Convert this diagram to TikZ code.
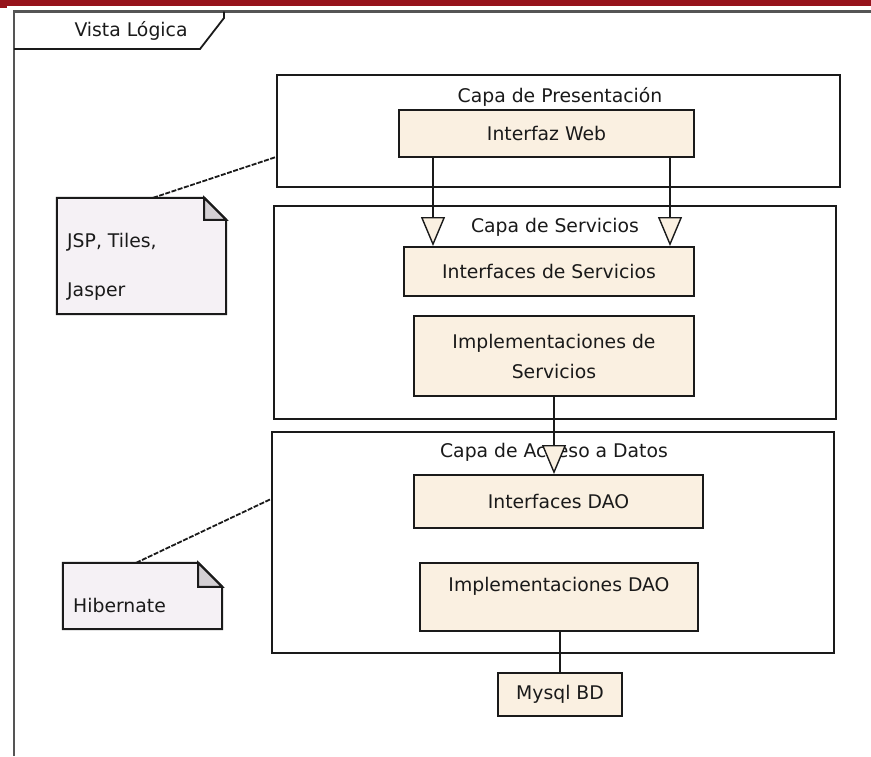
\documentclass[tikz,border=0pt]{standalone}
\usepackage{fontspec}
\setmainfont{DejaVu Sans}
\usetikzlibrary{arrows.meta,calc}

\definecolor{compfill}{RGB}{250,240,225}
\definecolor{notefill}{RGB}{245,241,245}
\definecolor{foldfill}{RGB}{212,208,212}
\definecolor{inkline}{RGB}{26,26,26}
\definecolor{framegray}{RGB}{85,85,85}
\definecolor{topred}{RGB}{150,20,28}

\tikzset{
  lbl/.style={font=\fontsize{18.8}{30}\selectfont, text=inkline},
  layer/.style={draw=inkline, line width=2pt, inner sep=0pt, fill=white},
  comp/.style={lbl, draw=inkline, line width=2pt, fill=compfill, inner sep=0pt, align=center},
  notebox/.style={inner sep=0pt},
  noteline/.style={draw=inkline, line width=2pt, line join=miter},
  anchorline/.style={draw=inkline, line width=1.8pt, dash pattern=on 5pt off 1.5pt},
  realize/.style={draw=inkline, line width=2pt,
    -{Triangle[length=29pt,width=24pt,fill=compfill,line width=1.4pt]}},
  link/.style={draw=inkline, line width=2pt},
  notetext/.style={lbl, inner sep=0pt, anchor=west}
}

\begin{document}
\begin{tikzpicture}[x=1pt,y=-1pt]
\useasboundingbox (0,0) rectangle (871,756);

% window strip and diagram frame
\fill[topred] (0,0) rectangle (871,5.5);
\fill[topred] (0,5.5) rectangle (7,7.5);
\draw[framegray, line width=2.8pt] (14,756) -- (14,11.5) -- (871,11.5);
\draw[inkline, line width=1.8pt] (14,49) -- (200,49) -- (224,18) -- (224,11.5);
\node[lbl] (frameT) at (131,31) {Vista Lógica};

% layers
\node[layer, minimum width=563pt, minimum height=112pt] (pres) at (558.5,131) {};
\node[lbl] (presT) at (560,97) {Capa de Presentación};
\node[layer, minimum width=562pt, minimum height=213pt] (serv) at (555,312.5) {};
\node[lbl] (servT) at (555,227) {Capa de Servicios};
\node[layer, minimum width=562pt, minimum height=221pt] (dat) at (553,542.5) {};
\node[lbl] (datT) at (554,452) {Capa de Acceso a Datos};

% components
\node[comp, minimum width=295pt, minimum height=47pt] (iw) at (546.5,133.5) {Interfaz Web};
\node[comp, minimum width=290pt, minimum height=49pt] (isv) at (549,271.5) {Interfaces de Servicios};
\node[comp, minimum width=280pt, minimum height=80pt] (impsv) at (554,356) {Implementaciones de\\Servicios};
\node[comp, minimum width=289pt, minimum height=53pt] (idao) at (558.5,501.5) {Interfaces DAO};
\node[comp, minimum width=278pt, minimum height=68pt,
      label={[lbl,anchor=center,yshift=-24pt]north:Implementaciones DAO}] (impdao) at (559,597) {};
\node[comp, minimum width=124pt, minimum height=43pt] (mysql) at (560,694.5) {Mysql BD};

% dependencies
\draw[realize] ([xshift=35pt]iw.south west) -- ([xshift=35pt]iw.south west |- isv.north);
\draw[realize] ([xshift=-25pt]iw.south east) -- ([xshift=-25pt]iw.south east |- isv.north);
\draw[realize] (impsv.south) -- (impsv.south |- idao.north);
\draw[link] (mysql.north |- impdao.south) -- (mysql.north);

% notes
\node[notebox, minimum width=169pt, minimum height=116pt] (n1) at (141.5,256) {};
\path[noteline, fill=notefill] (n1.north west) -- ([xshift=-22pt]n1.north east)
  -- ([yshift=-22pt]n1.north east) -- (n1.south east) -- (n1.south west) -- cycle;
\path[noteline, fill=foldfill] ([xshift=-22pt]n1.north east)
  -- ([xshift=-22pt,yshift=-22pt]n1.north east) -- ([yshift=-22pt]n1.north east) -- cycle;
\node[notetext] (n1a) at (67,242) {JSP, Tiles,};
\node[notetext] (n1b) at (67,292) {Jasper};

\node[notebox, minimum width=159pt, minimum height=66pt] (n2) at (142.5,596) {};
\path[noteline, fill=notefill] (n2.north west) -- ([xshift=-24pt]n2.north east)
  -- ([yshift=-24pt]n2.north east) -- (n2.south east) -- (n2.south west) -- cycle;
\path[noteline, fill=foldfill] ([xshift=-24pt]n2.north east)
  -- ([xshift=-24pt,yshift=-24pt]n2.north east) -- ([yshift=-24pt]n2.north east) -- cycle;
\node[notetext] (n2a) at (73,605) {Hibernate};

% note anchors
\draw[anchorline] ($(n1.north west)!0.568!(n1.north east)$) -- ([yshift=-26pt]pres.west);
\draw[anchorline] ($(n2.north west)!0.46!(n2.north east)$) -- ([yshift=43.5pt]dat.west);
\end{tikzpicture}
\end{document}
